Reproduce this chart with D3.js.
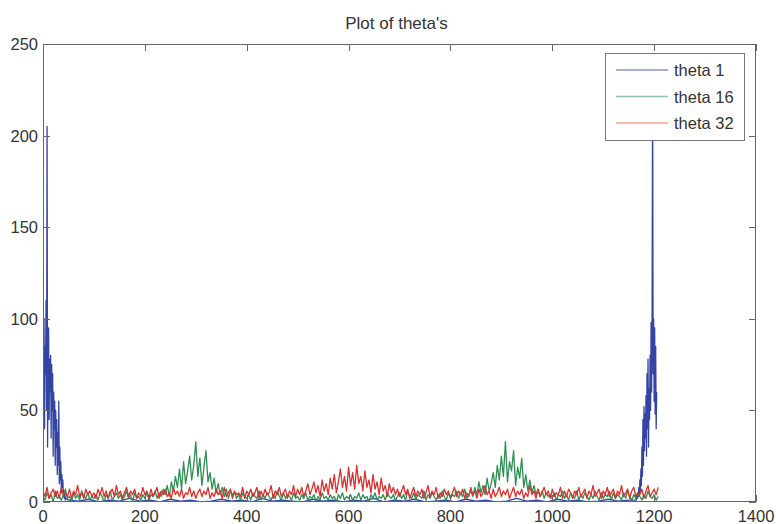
<!DOCTYPE html>
<html><head><meta charset="utf-8">
<script src="https://cdn.jsdelivr.net/npm/d3@7"></script>
<style>body{margin:0;background:#fff}svg{display:block}text{font-family:"Liberation Sans",Arial,sans-serif}</style>
</head><body><svg id="c" width="776" height="524"></svg>
<script>
const title = "Plot of theta's";
const xTicks = [0,200,400,600,800,1000,1200,1400];
const yTicks = [0,50,100,150,200,250];
const seriesNames = ["theta 1","theta 16","theta 32"];
const step = 4; // sample spacing of theta 16 / theta 32 arrays

// theta 1: [x, value]
const theta1Left = [95,60,100,40,85,70,110,50,205,30,80,95,45,78,60,80,35,75,50,70,25,60,40,55,20,50,30,45,15,38,20,55,10,30,12,22,5,15,8,12,3,6,2,4,1,2];
const theta1MidX = [50,70,90,110,130,150,170,190,210,230,250,270,290,310,330,350,370,390,410,430,450,470,490,510,530,550,570,590,610,630,650,670,690,710,730,750,770,790,810,830,850,870,890,910,930,950,970,990,1010,1030,1050,1070,1090,1110,1130,1150];
const theta1Mid = [1,0.5,1.5,0,1,0.5,2,0.5,1,0,1.5,0.5,1,0,0.5,1.5,0.5,1,0,2,0.5,1,0.5,0,1.5,0.5,1,0,1,0.5,2,0,1,0.5,1.5,0,0.5,1,0,1.5,0.5,1,0,0.5,2,0.5,1,0,1.5,0.5,1,0,0.5,1.5,0.5,1];
const theta1RightStart = 1165;
const theta1Right = [1,3,2,5,3,8,4,12,6,18,9,30,14,45,20,52,28,48,35,58,25,70,40,78,30,62,45,80,50,98,60,102,230,70,100,55,95,48,85,40,60];

// theta 16 sampled every 4 from 0
const theta16 = [
3,1,5,2,4,0,6,2,3,1,4,7,2,3,0,5,2,4,1,6,3,2,5,1,3,
2,4,1,5,3,0,4,2,6,1,3,5,2,4,1,3,6,2,4,0,5,2,3,1,4,
2,5,1,4,3,6,2,5,3,7,4,9,3,11,6,14,8,18,7,22,10,17,25,12,20,
33,14,24,9,19,28,11,16,7,13,5,10,4,8,3,7,2,6,4,5,2,4,1,5,3,
2,4,1,5,3,2,6,1,4,2,5,3,1,4,2,6,3,1,5,2,4,3,1,5,2,
3,1,4,2,5,1,3,2,4,0,3,1,5,2,3,1,4,2,3,0,4,2,5,1,3,
2,4,1,3,2,5,1,4,2,3,0,4,2,5,1,3,2,4,1,5,3,2,4,1,3,
5,2,4,1,6,3,2,5,1,4,3,2,6,1,4,2,5,3,1,4,2,6,3,1,5,
2,4,3,6,2,5,3,7,2,4,6,3,8,4,11,5,9,4,13,6,10,16,8,20,12,
25,14,33,11,22,17,28,9,19,13,24,8,15,6,12,5,9,4,7,3,6,2,5,3,4,
2,5,1,4,3,6,2,4,1,5,3,2,6,1,4,2,5,3,1,4,2,6,3,1,5,
2,4,3,6,1,5,2,4,3,1,5,2,6,3,1,4,2,5,3,1,4,2,6,3,2,
4,1,3];

// theta 32 sampled every 4 from 0
const theta32 = [
6,3,8,2,5,7,3,6,2,8,4,5,3,7,2,6,4,9,3,5,2,7,4,6,3,
5,2,7,4,8,3,6,2,5,7,3,9,4,6,2,5,8,3,6,4,7,2,5,3,8,
4,6,2,7,3,5,8,2,6,4,7,3,5,2,8,4,6,3,7,2,5,4,8,3,6,
2,5,7,3,6,4,8,2,5,3,7,4,6,2,8,3,5,7,2,6,4,5,3,8,2,
6,4,7,3,5,8,2,6,3,7,4,5,9,2,6,4,8,3,5,7,2,6,4,9,3,
7,4,8,3,6,10,4,7,11,5,9,3,12,6,10,4,13,7,15,5,11,18,8,14,6,
19,9,16,7,20,10,14,6,17,8,12,5,15,7,11,4,13,6,9,3,10,5,8,4,7,
3,6,9,4,7,2,5,8,3,6,4,7,2,5,9,3,6,4,8,2,5,3,7,4,6,
2,5,8,3,6,4,7,2,5,3,8,4,6,2,7,3,5,9,4,6,2,7,3,5,8,
3,6,4,7,2,5,8,3,6,4,7,2,5,3,9,4,6,2,7,3,5,8,4,6,2,
7,3,5,4,8,2,6,3,7,5,2,6,4,8,3,5,7,2,6,4,9,3,5,7,2,
6,4,8,3,5,7,2,6,4,9,3,5,7,2,6,8,3,5,4,7,2,6,9,3,5,
7,4,8];

const colors = ["#3444a2","#2f8f55","#d93030"];
const legendColors = ["#8a93cc","#8fc6a6","#f0a492"];

const svg = d3.select("#c");
const L=43,R=756,T=44,B=502;
const x = d3.scaleLinear().domain([0,1400]).range([L,R]);
const y = d3.scaleLinear().domain([0,250]).range([B,T]);

const t1 = [];
theta1Left.forEach((v,i)=>t1.push([i,v]));
theta1MidX.forEach((xv,i)=>t1.push([xv,theta1Mid[i]]));
theta1Right.forEach((v,i)=>t1.push([theta1RightStart+i,v]));
const t16 = theta16.map((v,i)=>[i*step,v]);
const t32 = theta32.map((v,i)=>[i*step,v]);

const line = d3.line().x(d=>x(d[0])).y(d=>y(d[1]));
svg.append("defs").append("clipPath").attr("id","clip").append("rect").attr("x",L).attr("y",T).attr("width",R-L).attr("height",B-T);
const g = svg.append("g").attr("clip-path","url(#clip)");
[t1,t16,t32].forEach((s,i)=>{
  g.append("path").attr("d",line(s)).attr("fill","none").attr("stroke",colors[i]).attr("stroke-width",1.3).attr("stroke-linejoin","round");
});

// axes box with inward ticks
const ax = svg.append("g").attr("stroke","#666").attr("stroke-width",1).attr("fill","none");
ax.append("rect").attr("x",L+0.5).attr("y",T+0.5).attr("width",R-L-1).attr("height",B-T-1);
const tl=7;
xTicks.forEach(v=>{
  const px=Math.round(x(v))+0.5;
  ax.append("line").attr("x1",px).attr("x2",px).attr("y1",B).attr("y2",B-tl);
  ax.append("line").attr("x1",px).attr("x2",px).attr("y1",T).attr("y2",T+tl);
});
yTicks.forEach(v=>{
  const py=Math.round(y(v))+0.5;
  ax.append("line").attr("x1",L).attr("x2",L+tl).attr("y1",py).attr("y2",py);
  ax.append("line").attr("x1",R).attr("x2",R-tl).attr("y1",py).attr("y2",py);
});
const lab = svg.append("g").attr("fill","#333").attr("font-size","16.5px");
xTicks.forEach(v=>lab.append("text").attr("x",x(v)).attr("y",522).attr("text-anchor","middle").text(v));
yTicks.forEach(v=>lab.append("text").attr("x",38).attr("y",y(v)+6).attr("text-anchor","end").text(v));

svg.append("text").attr("x",(L+R)/2 - 3).attr("y",29).attr("text-anchor","middle").attr("font-size","17px").attr("fill","#333").text(title);

// legend
const lg = svg.append("g");
lg.append("rect").attr("x",605.5).attr("y",53.5).attr("width",139).attr("height",87).attr("fill","#fff").attr("stroke","#777");
seriesNames.forEach((n,i)=>{
  const yy=70+i*26.5;
  lg.append("line").attr("x1",616).attr("x2",668).attr("y1",yy).attr("y2",yy).attr("stroke",legendColors[i]).attr("stroke-width",1.5);
  lg.append("text").attr("x",674).attr("y",yy+6).attr("font-size","16.5px").attr("fill","#333").text(n);
});
</script></body></html>
